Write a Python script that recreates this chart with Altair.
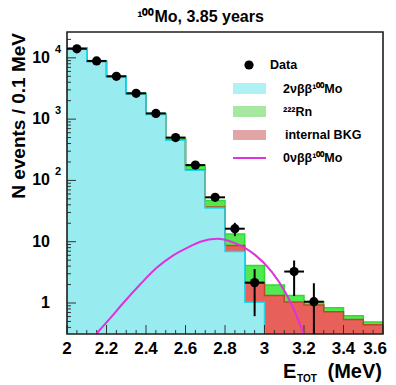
import altair as alt
import numpy as np
import pandas as pd

# ---------------- values ----------------
bin_lo = [2.0, 2.1, 2.2, 2.3, 2.4, 2.5, 2.6, 2.7, 2.8, 2.9, 3.0, 3.1, 3.2, 3.3, 3.4, 3.5]
BIN_W = 0.1
two_nu_mo = [14450, 8720, 4900, 2560, 1190, 452, 146, 35.4, 6.9, 1.03, 0, 0, 0, 0, 0, 0]
internal_bkg = [30, 20, 15, 10, 6, 5, 3, 1.6, 1.8, 1.07, 1.32, 1.04, 0.93, 0.72, 0.54, 0.44]
radon_222 = [120, 100, 90, 75, 45, 32, 22, 10, 4.7, 1.99, 0.65, 0.29, 0.12, 0.12, 0.08, 0.05]
underflow_x = 1.9
underflow_two_nu = 20500

data_x = [2.05, 2.15, 2.25, 2.35, 2.45, 2.55, 2.65, 2.75, 2.85, 2.95, 3.15, 3.25]
data_n = [14050, 8900, 5000, 2640, 1240, 500, 178, 53, 16.3, 2.15, 3.26, 1.05]
data_lo = [13930, 8805, 4930, 2590, 1205, 478, 165, 45.7, 12.3, 0.61, 1.30, 0.312]
data_hi = [14170, 8995, 5070, 2690, 1275, 522, 191, 60.3, 20.3, 3.57, 4.94, 2.10]

curve_x = [2.150, 2.218, 2.285, 2.370, 2.454, 2.538, 2.623, 2.675, 2.758, 2.851, 2.952, 3.036, 3.104, 3.154, 3.196]
curve_y = [0.318, 0.56, 1.0, 2.0, 3.75, 6.0, 8.4, 10.0, 11.2, 9.5, 6.1, 3.26, 1.53, 0.72, 0.32]

x_ticks = [2.0, 2.2, 2.4, 2.6, 2.8, 3.0, 3.2, 3.4, 3.6]
x_tick_labels = ["2", "2.2", "2.4", "2.6", "2.8", "3", "3.2", "3.4", "3.6"]
y_ticks = [1, 10, 100, 1000, 10000]
y_tick_base = ["1", "10", "10", "10", "10"]
y_tick_exp = ["", "", "2", "3", "4"]

YMIN, YMAX = 0.312, 26400
XMIN, XMAX = 2.0, 3.6
W, H = 316, 302
FONT = "Liberation Sans"

# ---------------- colours ----------------
C_CYAN, C_CYAN_LINE, C_CYAN_LEG = "#98ecf0", "#22d6ea", "#b0f2f4"
C_GREEN, C_GREEN_LINE, C_GREEN_LEG = "#52e852", "#2fdc2f", "#a6e8a0"
C_RED, C_RED_LINE, C_RED_LEG = "#e8605a", "#b84a28", "#e2a4a4"
C_MAG = "#dd33dd"

xs = alt.Scale(domain=[XMIN, XMAX], nice=False, zero=False)
ys = alt.Scale(type="log", domain=[YMIN, YMAX], nice=False)

c = np.array(two_nu_mo, float)
cr = c + np.array(internal_bkg, float)
tot = cr + np.array(radon_222, float)
edges = list(bin_lo) + [round(bin_lo[-1] + BIN_W, 2)]


def step_df(vals):
    vals = list(np.maximum(vals, YMIN))
    return pd.DataFrame({"x": edges, "y": vals + [vals[-1]], "b": YMIN})


# cyan stops where it becomes zero
nz = int(np.argmax(c <= 0)) if (c <= 0).any() else len(c)
cyan_df = pd.DataFrame({
    "x": [underflow_x] + list(bin_lo[:nz]) + [bin_lo[nz] if nz < len(bin_lo) else edges[-1]],
    "y": [underflow_two_nu] + list(c[:nz]) + [YMIN],
    "b": YMIN,
})
red_df = step_df(cr)
green_df = step_df(tot)

X = lambda f: alt.X(f, type="quantitative", scale=xs, axis=None)
Y = lambda f: alt.Y(f, type="quantitative", scale=ys, axis=None)


def area(df, color):
    return alt.Chart(df).mark_area(interpolate="step-after", color=color, clip=True).encode(
        x=X("x"), y=Y("y"), y2="b:Q")


def line(df, color, w=1.5):
    return alt.Chart(df).mark_line(interpolate="step-after", color=color, strokeWidth=w, clip=True).encode(
        x=X("x"), y=Y("y"))


layers = [
    area(green_df, C_GREEN), area(red_df, C_RED), area(cyan_df, C_CYAN),
    line(green_df, C_GREEN_LINE), line(red_df, C_RED_LINE), line(cyan_df, C_CYAN_LINE),
]

# ---- inner ticks ----
x_minor = [round(v, 2) for v in np.arange(XMIN, XMAX + 1e-9, 0.05) if min(abs(v - t) for t in x_ticks) > 1e-6]
y_minor = [k * 10.0 ** d for d in range(-1, 5) for k in range(2, 10) if YMIN < k * 10.0 ** d < YMAX]
tick_col = "#333333"
layers += [
    alt.Chart(pd.DataFrame({"v": x_ticks})).mark_rule(color=tick_col, strokeWidth=1).encode(
        x=X("v"), y=alt.value(H), y2=alt.value(H - 9)),
    alt.Chart(pd.DataFrame({"v": x_minor})).mark_rule(color=tick_col, strokeWidth=1).encode(
        x=X("v"), y=alt.value(H), y2=alt.value(H - 4)),
    alt.Chart(pd.DataFrame({"v": y_ticks})).mark_rule(color=tick_col, strokeWidth=1).encode(
        y=Y("v"), x=alt.value(0), x2=alt.value(9)),
    alt.Chart(pd.DataFrame({"v": y_minor})).mark_rule(color=tick_col, strokeWidth=1).encode(
        y=Y("v"), x=alt.value(0), x2=alt.value(4)),
]

# ---- 0nu curve ----
layers.append(alt.Chart(pd.DataFrame({"x": curve_x, "y": curve_y})).mark_line(
    interpolate="monotone", color=C_MAG, strokeWidth=2, clip=True).encode(x=X("x"), y=Y("y")))

one = pd.DataFrame({"a": [0]})
# frame
layers.append(alt.Chart(one).mark_rect(filled=False, stroke="#1e1e1e", strokeWidth=1.6).encode(
    x=alt.value(0), x2=alt.value(W), y=alt.value(0), y2=alt.value(H)))

# ---- data points ----
dd = pd.DataFrame({"x": data_x, "n": data_n, "lo": data_lo, "hi": data_hi})
dd["l"] = dd["x"] - BIN_W / 2
dd["r"] = dd["x"] + BIN_W / 2
layers += [
    alt.Chart(dd).mark_rule(color="black", strokeWidth=2, clip=True).encode(x=X("x"), y=Y("lo"), y2="hi:Q"),
    alt.Chart(dd).mark_rule(color="black", strokeWidth=2, clip=True).encode(x=X("l"), x2="r:Q", y=Y("n")),
    alt.Chart(dd).mark_point(filled=True, color="black", size=85, opacity=1).encode(x=X("x"), y=Y("n")),
]


def vtext(txt, x, y, size, align="left", baseline="middle", **kw):
    return alt.Chart(one).mark_text(text=txt, fontSize=size, fontWeight="bold", font=FONT, align=align,
                                    baseline=baseline, color="black", **kw).encode(
        x=alt.value(x), y=alt.value(y))


# ---- tick labels ----
xl = pd.DataFrame({"v": x_ticks, "t": x_tick_labels})
layers.append(alt.Chart(xl.iloc[:-1]).mark_text(
    fontSize=17, fontWeight="bold", font=FONT, baseline="alphabetic", color="black").encode(
    x=X("v"), y=alt.value(322), text="t:N"))
layers.append(alt.Chart(xl.iloc[-1:]).mark_text(
    fontSize=17, fontWeight="bold", font=FONT, baseline="alphabetic", color="black",
    align="right", dx=4).encode(
    x=X("v"), y=alt.value(322), text="t:N"))
ydf = pd.DataFrame({"v": y_ticks, "b": y_tick_base, "e": y_tick_exp})
layers.append(alt.Chart(ydf).mark_text(
    fontSize=16, fontWeight="bold", font=FONT, align="right", baseline="middle", color="black").encode(
    y=Y("v"), x=alt.value(-17), text="b:N"))
layers.append(alt.Chart(ydf[ydf["e"] != ""]).mark_text(
    fontSize=11, fontWeight="bold", font=FONT, align="left", baseline="middle", dy=-8, color="black").encode(
    y=Y("v"), x=alt.value(-12), text="e:N"))

# ---- titles ----
layers += [
    vtext("¹⁰⁰Mo, 3.85 years", 133.5, -10.5, 16, align="center", baseline="alphabetic"),
    vtext("N events / 0.1 MeV", -42, 1, 19, align="right", baseline="alphabetic", angle=270),
    vtext("E", 216, 346, 20, baseline="alphabetic"),
    vtext("TOT", 230, 350, 10, baseline="alphabetic"),
    vtext("(MeV)", 315, 346, 20, align="right", baseline="alphabetic"),
]

# ---- legend ----
LX0, LX1, LT = 166, 199, 216
layers += [
    alt.Chart(one).mark_point(filled=True, color="black", size=85, opacity=1).encode(
        x=alt.value(182), y=alt.value(33)),
    vtext("Data", 203, 33, 12.5),
    alt.Chart(one).mark_rect(color=C_CYAN_LEG).encode(
        x=alt.value(LX0), x2=alt.value(LX1), y=alt.value(51), y2=alt.value(62)),
    vtext("2νββ¹⁰⁰Mo", LT, 57, 12.5),
    alt.Chart(one).mark_rect(color=C_GREEN_LEG).encode(
        x=alt.value(LX0), x2=alt.value(LX1), y=alt.value(74), y2=alt.value(85)),
    vtext("²²²Rn", LT, 80, 12.5),
    alt.Chart(one).mark_rect(color=C_RED_LEG).encode(
        x=alt.value(LX0), x2=alt.value(LX1), y=alt.value(98), y2=alt.value(108)),
    vtext("internal BKG", LT + 2, 103, 12.5),
    alt.Chart(one).mark_rule(color=C_MAG, strokeWidth=2).encode(
        x=alt.value(LX0), x2=alt.value(LX1), y=alt.value(126)),
    vtext("0νββ¹⁰⁰Mo", LT, 126, 12.5),
]

chart = alt.layer(*layers).properties(
    width=W, height=H,
    padding={"left": 59, "top": 24, "right": 5, "bottom": 51},
    autosize=alt.AutoSizeParams(type="none"),
).configure_view(stroke=None)

chart.save("out.html", embed_options={"renderer": "svg", "actions": False})
